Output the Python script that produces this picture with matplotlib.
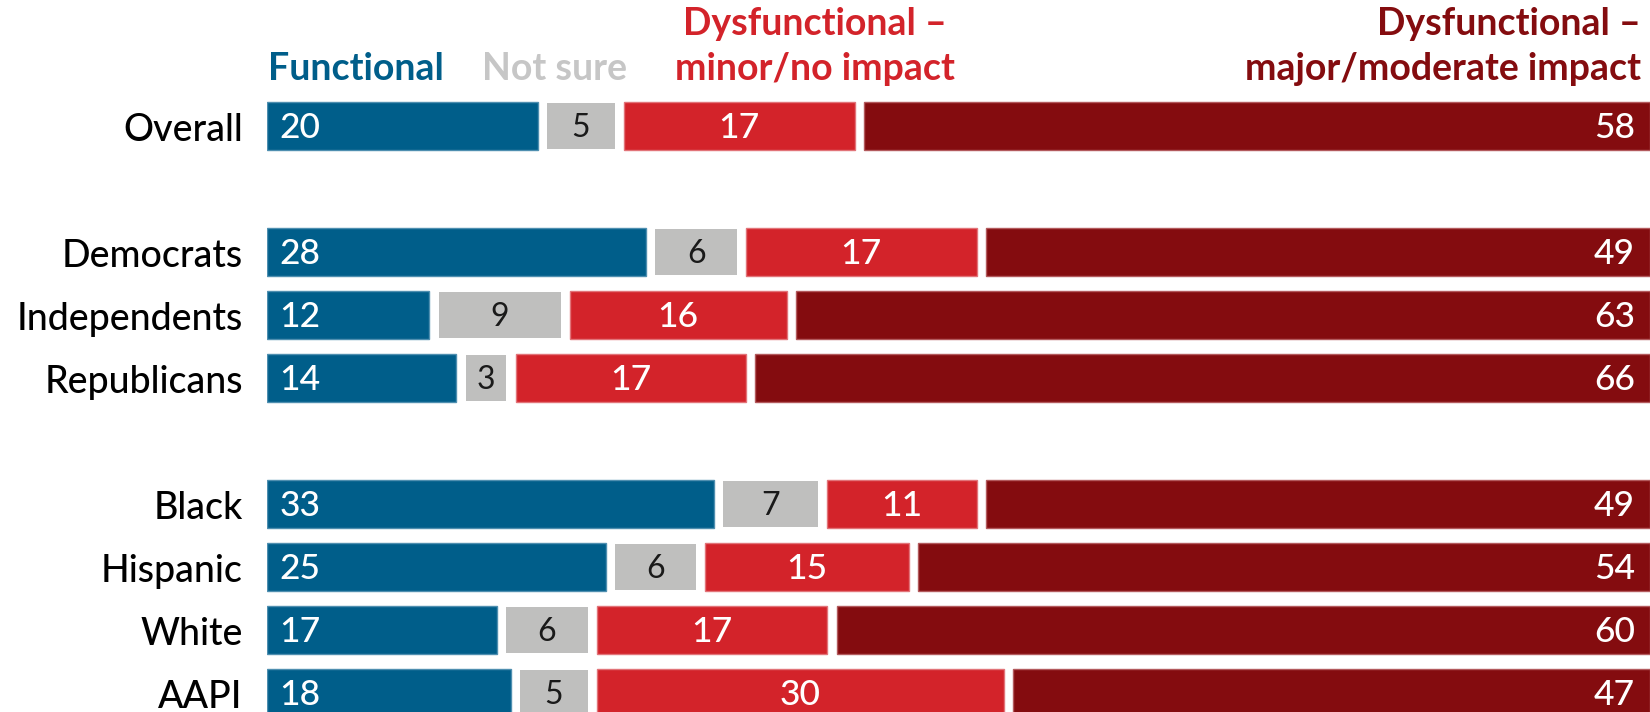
import matplotlib
matplotlib.use("Agg")
import matplotlib.pyplot as plt
import matplotlib.transforms as mtransforms

categories = ["Overall", "Democrats", "Independents", "Republicans",
              "Black", "Hispanic", "White", "AAPI"]
functional = [20, 28, 12, 14, 33, 25, 17, 18]
not_sure = [5, 6, 9, 3, 7, 6, 6, 5]
dys_minor = [17, 17, 16, 17, 11, 15, 17, 30]
dys_major = [58, 49, 63, 66, 49, 54, 60, 47]
series_names = ["Functional", "Not sure", "Dysfunctional –\nminor/no impact",
                "Dysfunctional –\nmajor/moderate impact"]

# layout (row slots with blank rows between groups)
row_pos = [0, 2, 3, 4, 6, 7, 8, 9]

BLUE = "#005E8A"
GRAY = "#BFBFBE"
RED = "#D3232A"
DARK = "#840C0F"
GRAY_HDR = "#C6C6C6"

W, H, DPI = 1650, 712, 100
fig = plt.figure(figsize=(W / DPI, H / DPI), dpi=DPI)
left_px = 266.7
ax = fig.add_axes([left_px / W, 0, 1 - left_px / W, 1])

FONT = "Lato"
gap = 0.68
px_per_row = 63.0
top_center_px = 126.0
ax.set_ylim((H - top_center_px) / px_per_row, -top_center_px / px_per_row)
ax.set_xlim(0, 100 + 3 * gap)
ax.axis("off")

series = [functional, not_sure, dys_minor, dys_major]
colors = [BLUE, GRAY, RED, DARK]
edges = ["#4f8fb0", GRAY, "#e27479", "#b35a5d"]
heights = [0.755, 0.74, 0.755, 0.755]

for i, y in enumerate(row_pos):
    left = 0.0
    for k, vals in enumerate(series):
        v = vals[i]
        lw = 0 if k == 1 else 1.0
        ax.barh(y, v, left=left, height=heights[k], color=colors[k],
                edgecolor=edges[k], linewidth=lw)
        base = y + 0.185
        if k == 0:
            t = ax.text(left, base, str(v), color="white", fontsize=25.5,
                        family=FONT, fontweight="medium", ha="left", va="baseline")
            t.set_transform(ax.transData + mtransforms.ScaledTranslation(13 / DPI, 0, fig.dpi_scale_trans))
        elif k == 1:
            ax.text(left + v / 2, base - 0.01, str(v), color="#1a1a1a", fontsize=23,
                    family=FONT, ha="center", va="baseline")
        elif k == 2:
            ax.text(left + v / 2, base, str(v), color="white", fontsize=25.5,
                    family=FONT, fontweight="medium", ha="center", va="baseline")
        else:
            t = ax.text(left + v, base, str(v), color="white", fontsize=25.5,
                        family=FONT, fontweight="medium", ha="right", va="baseline")
            t.set_transform(ax.transData + mtransforms.ScaledTranslation(-15 / DPI, 0, fig.dpi_scale_trans))
        left += v + gap

    lab = ax.text(0, y + 0.233, categories[i], color="black", fontsize=27,
                  family=FONT, fontweight="medium", ha="right", va="baseline")
    lab.set_transform(ax.transData + mtransforms.ScaledTranslation(-24 / DPI, 0, fig.dpi_scale_trans))

# headers (figure pixel positions)
def fig_text(xp, yp_baseline, s, color, ha):
    fig.text(xp / W, 1 - yp_baseline / H, s, color=color, fontsize=27,
             family=FONT, fontweight="bold", ha=ha, va="baseline")

fig_text(268, 80, series_names[0], BLUE, "left")
fig_text(482, 80, series_names[1], GRAY_HDR, "left")
l1, l2 = series_names[2].split("\n")
fig_text(815, 35, l1, RED, "center")
fig_text(815, 80, l2, RED, "center")
l1, l2 = series_names[3].split("\n")
fig_text(1641, 35, l1, DARK, "right")
fig_text(1641, 80, l2, DARK, "right")

fig.savefig("out.png", dpi=DPI)
